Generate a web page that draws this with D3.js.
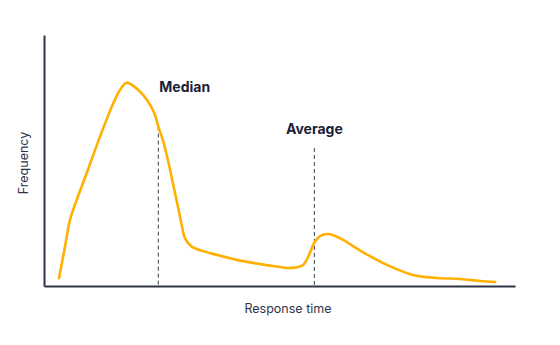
<!DOCTYPE html>
<html><head><meta charset="utf-8">
<script src="https://cdn.jsdelivr.net/npm/d3@7"></script>
<style>
html,body{margin:0;padding:0;background:#fff;}
svg{display:block;font-family:Inter, "Noto Sans", sans-serif;}
</style></head>
<body>
<svg id="chart" width="560" height="345"></svg>
<script>
// Response time (arbitrary units) and frequency (arbitrary units)
const responseTime = [3.18, 4.46, 5.52, 6.94, 9.07, 11.89, 14.71, 16.14, 17.56, 20.02, 22.14, 23.57, 24.27, 25.33, 26.39, 27.45, 28.51, 29.24, 29.94, 31.36, 34.18, 36.3, 40.9, 50.1, 52.2, 55.0, 57.5, 58.6, 60.3, 62.8, 67.7, 72.8, 78.3, 83.4, 88.3, 92.6, 95.8];
const frequency    = [3.07, 15.7, 26.3, 34.3, 45.0, 59.5, 72.8, 78.1, 81.0, 78.1, 73.4, 68.1, 63.5, 57.5, 49.5, 40.2, 31.0, 24.3, 19.0, 15.7, 13.7, 12.6, 10.4, 7.6, 7.2, 8.4, 17.6, 19.9, 20.7, 19.1, 13.5, 8.4, 4.4, 3.2, 2.8, 2.0, 1.6];
const markerNames  = ["Median", "Average"];
const markerX      = [24.27, 57.4];
const markerTop    = [63.5, 55.0];
const xLabel = "Response time";
const yLabel = "Frequency";

const svg = d3.select("#chart");
const x = d3.scaleLinear().domain([0, 100]).range([44, 515]);
const y = d3.scaleLinear().domain([0, 100]).range([286, 35]);

const pts = responseTime.map((d, i) => [d, frequency[i]]);

// marker lines
markerX.forEach((mx, i) => {
  svg.append("line")
    .attr("x1", x(mx)).attr("x2", x(mx))
    .attr("y1", y(markerTop[i])).attr("y2", y(0))
    .attr("stroke", "#3a3f4f").attr("stroke-width", 1)
    .attr("stroke-dasharray", "4,3");
});

// curve
const line = d3.line().x(d => x(d[0])).y(d => y(d[1])).curve(d3.curveCatmullRom.alpha(0.5));
svg.append("path").datum(pts)
  .attr("d", line)
  .attr("fill", "none")
  .attr("stroke", "#FFB000")
  .attr("stroke-width", 2.6)
  .attr("stroke-linecap", "round")
  .attr("stroke-linejoin", "round");

// axes
const xAxis = d3.axisBottom(x).tickValues([]).tickSizeOuter(0);
const yAxis = d3.axisLeft(y).tickValues([]).tickSizeOuter(0);
svg.append("g").attr("transform", `translate(0,${y(0)})`).call(xAxis)
  .select(".domain").attr("stroke", "#2f3445").attr("stroke-width", 2);
svg.append("g").attr("transform", `translate(${x(0)},0)`).call(yAxis)
  .select(".domain").attr("stroke", "#2f3445").attr("stroke-width", 2);

// marker labels
svg.append("text").attr("x", x(markerX[0]) + 1).attr("y", 92)
  .attr("font-size", 14).attr("font-weight", 700).attr("fill", "#1b2136")
  .text(markerNames[0]);
svg.append("text").attr("x", x(markerX[1])).attr("y", 134)
  .attr("text-anchor", "middle")
  .attr("font-size", 14).attr("font-weight", 700).attr("fill", "#1b2136")
  .text(markerNames[1]);

// axis titles
svg.append("text").attr("x", 288).attr("y", 313).attr("text-anchor", "middle")
  .attr("font-size", 12.5).attr("fill", "#2f3445").text(xLabel);
svg.append("text").attr("transform", "translate(28,163) rotate(-90)")
  .attr("text-anchor", "middle")
  .attr("font-size", 12.5).attr("fill", "#2f3445").text(yLabel);
</script>
</body></html>
